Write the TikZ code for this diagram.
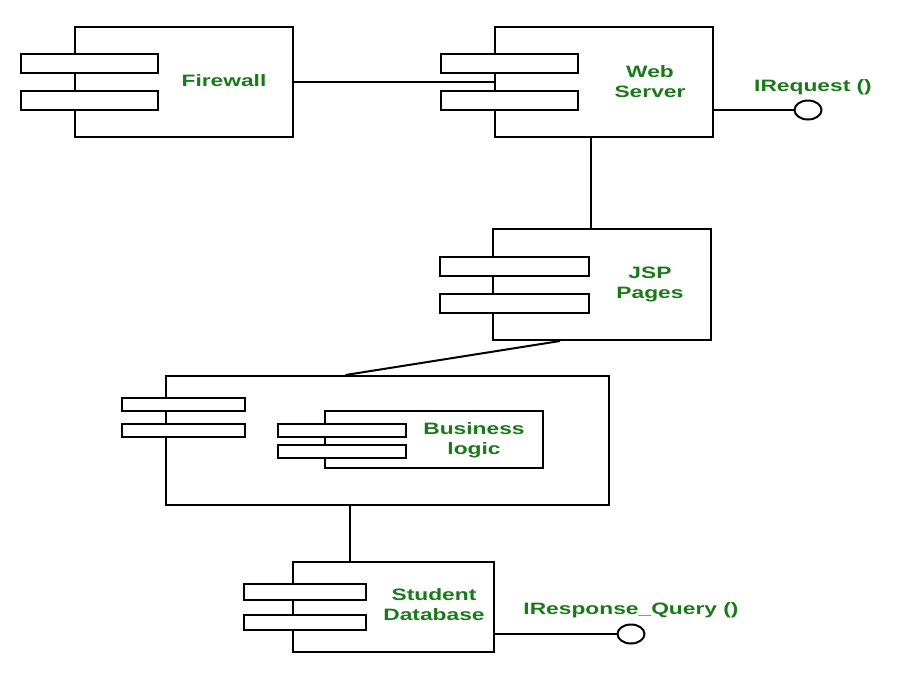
\documentclass[tikz,border=0pt]{standalone}
\usepackage{fontspec}
\newfontfamily\lblfont[FakeStretch=1.38]{Liberation Sans}
\usetikzlibrary{positioning,shapes.geometric}
\definecolor{lblGreen}{HTML}{1A7A1A}
\tikzset{
  comp/.style  = {draw, line width=2pt, fill=white, inner sep=0pt},
  port/.style  = {draw, line width=2pt, fill=white, inner sep=0pt},
  lbl/.style   = {text=lblGreen, align=center, inner sep=0pt,
                  font=\lblfont\bfseries\fontsize{16.5}{20}\selectfont},
  iface/.style = {draw, line width=2pt, fill=white, ellipse,
                  minimum width=27pt, minimum height=19pt, inner sep=0pt},
  ln/.style    = {line width=2pt},
}
\begin{document}
\begin{tikzpicture}[x=1pt,y=-1pt]
  \useasboundingbox (0,0) rectangle (918,673);

  % components
  \node[comp, minimum width=218pt, minimum height=110pt] (fw)  at (184,82)    {};
  \node[comp, minimum width=218pt, minimum height=110pt] (ws)  at (604,82)    {};
  \node[comp, minimum width=218pt, minimum height=111pt] (jsp) at (602,284.5) {};
  \node[comp, minimum width=443pt, minimum height=129pt] (app) at (387.5,440.5) {};
  \node[comp, minimum width=218pt, minimum height=57pt]  (bl)  at (434,439.5) {};
  \node[comp, minimum width=201pt, minimum height=90pt]  (db)  at (393.5,607) {};

  % ports
  \node[port, minimum width=137pt, minimum height=19pt] (fwA)  at (89.5,63.5)  {};
  \node[port, minimum width=137pt, minimum height=19pt] (fwB)  at (89.5,100.5) {};
  \node[port, minimum width=137pt, minimum height=19pt] (wsA)  at (509,63.5)   {};
  \node[port, minimum width=137pt, minimum height=19pt] (wsB)  at (509,100.5)  {};
  \node[port, minimum width=149pt, minimum height=19pt] (jspA) at (514.5,266.5) {};
  \node[port, minimum width=149pt, minimum height=19pt] (jspB) at (514.5,303)  {};
  \node[port, minimum width=123pt, minimum height=13pt] (appA) at (183.5,404.5) {};
  \node[port, minimum width=123pt, minimum height=13pt] (appB) at (183.5,430.5) {};
  \node[port, minimum width=128pt, minimum height=13pt] (blA)  at (342,430.5)  {};
  \node[port, minimum width=128pt, minimum height=13pt] (blB)  at (342,451.5)  {};
  \node[port, minimum width=122pt, minimum height=16pt] (dbA)  at (305,592)    {};
  \node[port, minimum width=122pt, minimum height=15pt] (dbB)  at (305,622.5)  {};

  % labels
  \node[lbl] (fwT)  at (224,81)  {Firewall};
  \node[lbl] (wsT)  at (650,82)  {Web\\Server};
  \node[lbl] (jspT) at (650,284) {JSP\\Pages};
  \node[lbl] (blT)  at (474,440) {Business\\logic};
  \node[lbl] (dbT)  at (434,605) {Student\\Database};

  % interfaces
  \node[iface] (ireq)  at (808,110) {};
  \node[iface] (iresp) at (631,634) {};
  \node[lbl] (ireqT)  at (813,87)  {IRequest ()};
  \node[lbl] (irespT) at (631,610) {IResponse\_Query ()};

  % connectors
  \draw[ln] (fw.east) -- (ws.west);
  \draw[ln] ([xshift=-13pt]ws.south) -- ([xshift=-13pt]ws.south |- jsp.north);
  \draw[ln] ([xshift=-42pt]jsp.south) -- ([xshift=-42pt]app.north);
  \draw[ln] ([xshift=-38pt]app.south) -- ([xshift=-38pt]app.south |- db.north);
  \draw[ln] ([yshift=-28pt]ws.east) -- (ireq.west);
  \draw[ln] ([yshift=-27pt]db.east) -- (iresp.west);
\end{tikzpicture}
\end{document}
